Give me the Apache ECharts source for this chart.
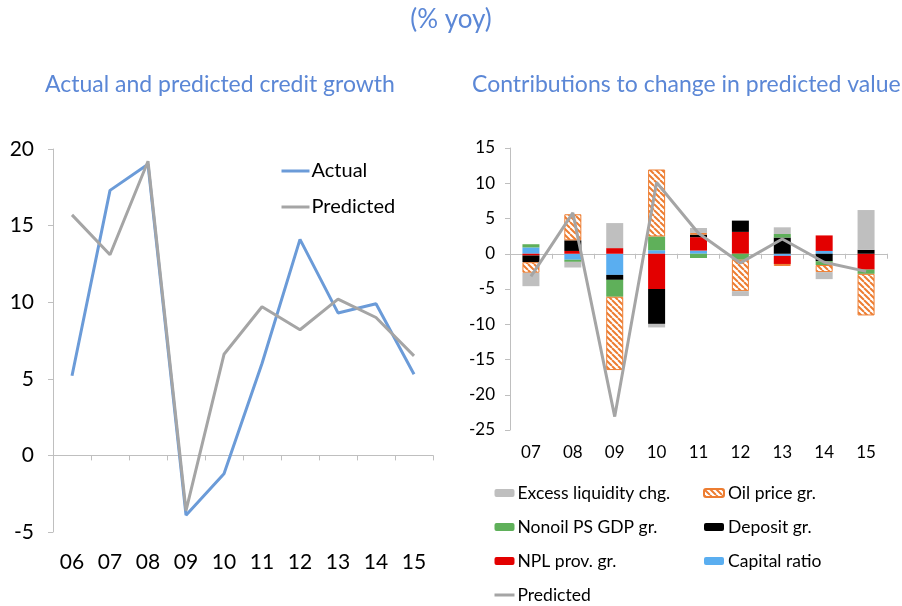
<!DOCTYPE html>
<html lang="en">
<head>
    <meta charset="UTF-8">
    <title>Credit growth</title>
    <script src="https://cdn.jsdelivr.net/npm/echarts@6.0.0/dist/echarts.min.js"></script>
    <style>
        body { margin: 0; background: #fff; }
    </style>
</head>
<body>
    <div id="main" style="width: 902px; height: 606px;"></div>
    <script>
        // left panel: actual vs predicted credit growth
        const yearsLeft = ['06', '07', '08', '09', '10', '11', '12', '13', '14', '15'];
        const actual = [5.2, 17.3, 19.0, -3.9, -1.2, 6.0, 14.1, 9.3, 9.9, 5.3];
        const predicted = [15.7, 13.1, 19.2, -3.6, 6.6, 9.7, 8.2, 10.2, 9.0, 6.5];

        // right panel: contributions to change in predicted value
        const yearsRight = ['07', '08', '09', '10', '11', '12', '13', '14', '15'];
        const capitalRatio = [0.9, -0.85, -3.0, 0.5, 0.45, 0, -0.3, 0.4, 0];
        const nplProv = [-0.25, 0.4, 0.8, -5.0, 1.9, 3.1, -1.15, 2.2, -2.25];
        const depositGr = [-0.95, 1.5, -0.7, -4.95, 0.35, 1.6, 2.3, -1.05, 0.55];
        const nonoilGdp = [0.45, -0.3, -2.4, 1.95, -0.6, -0.85, 0.5, -0.55, -0.6];
        const oilPrice = [-1.5, 3.7, -10.4, 9.5, 0.25, -4.45, -0.28, -1.0, -5.9];
        const excessLiq = [-1.9, -0.8, 3.55, -0.5, 0.7, -0.7, 0.95, -1.0, 5.65];
        const predChange = [-3.2, 5.8, -23.1, 10.1, 2.9, -1.3, 2.1, -1.2, -2.5];

        const FONT = 'Lato';
        const titleColor = '#5b87d6';
        const axisGray = '#bfbfbf';
        const predGray = '#a5a5a5';

        function hatch() {
            const s = 6;
            const c = document.createElement('canvas');
            c.width = s; c.height = s;
            const g = c.getContext('2d');
            g.fillStyle = '#fff';
            g.fillRect(0, 0, s, s);
            g.strokeStyle = '#ed7d31';
            g.lineWidth = 2;
            g.beginPath();
            for (let k = -1; k <= 1; k++) {
                g.moveTo(k * s, 0);
                g.lineTo(k * s + s, s);
            }
            g.stroke();
            return c;
        }

        const myChart = echarts.init(document.getElementById('main'));

        function zeroAxis(grid, data) {
            return {
                gridIndex: grid,
                type: 'category',
                data: data,
                position: 'bottom',
                axisLine: { onZero: true, lineStyle: { color: axisGray, width: 1 } },
                axisTick: { show: true, length: 5, lineStyle: { color: axisGray } },
                axisLabel: { show: false },
                splitLine: { show: false }
            };
        }
        function labelAxis(grid, data, size, margin) {
            return {
                gridIndex: grid,
                type: 'category',
                data: data,
                position: 'bottom',
                axisLine: { show: false, onZero: false },
                axisTick: { show: false },
                axisLabel: { color: '#000', fontFamily: FONT, fontSize: size, margin: margin },
                splitLine: { show: false }
            };
        }
        function valueAxis(grid, min, max, size, margin) {
            return {
                gridIndex: grid,
                type: 'value',
                min: min,
                max: max,
                interval: 5,
                axisLine: { show: true, lineStyle: { color: axisGray } },
                axisTick: { show: true, length: 5, lineStyle: { color: axisGray } },
                axisLabel: { color: '#000', fontFamily: FONT, fontSize: size, margin: margin },
                splitLine: { show: false }
            };
        }

        const pattern = { image: hatch(), repeat: 'repeat' };

        function stackBar(name, data, color, extra) {
            return Object.assign({
                name: name,
                type: 'bar',
                xAxisIndex: 2,
                yAxisIndex: 1,
                stack: 'contrib',
                barWidth: 17,
                data: data,
                itemStyle: { color: color },
                animation: false
            }, extra || {});
        }

        // line entries in the legends: no dot on the line
        function lineItem(name) {
            return { name: name, itemStyle: { opacity: 0 }, lineStyle: { width: 3 } };
        }

        const options = {
            backgroundColor: '#fff',
            textStyle: { fontFamily: FONT },
            title: [
                {
                    text: '(% yoy)',
                    left: 'center',
                    top: 2,
                    textStyle: { color: titleColor, fontFamily: FONT, fontSize: 26, fontWeight: 'normal' }
                },
                {
                    text: 'Actual and predicted credit growth',
                    left: 40,
                    top: 68,
                    textStyle: { color: titleColor, fontFamily: FONT, fontSize: 23, fontWeight: 'normal' }
                },
                {
                    text: 'Contributions to change in predicted value',
                    left: 467,
                    top: 68,
                    textStyle: { color: titleColor, fontFamily: FONT, fontSize: 23, fontWeight: 'normal' }
                }
            ],
            legend: [
                {
                    left: 280,
                    top: 161,
                    padding: 0,
                    orient: 'vertical',
                    itemWidth: 28,
                    itemHeight: 4,
                    itemGap: 16,
                    textStyle: { color: '#000', fontFamily: FONT, fontSize: 20, padding: [0, 0, 0, -3] },
                    data: [lineItem('Actual'), lineItem('Predicted')]
                },
                {
                    left: 493,
                    top: 484,
                    padding: 0,
                    orient: 'vertical',
                    itemWidth: 20,
                    itemHeight: 8,
                    itemGap: 16,
                    textStyle: { color: '#000', fontFamily: FONT, fontSize: 17.5, padding: [0, 0, 0, -2] },
                    data: ['Excess liquidity chg.', 'Nonoil PS GDP gr.', 'NPL prov. gr.', lineItem('Predicted')]
                },
                {
                    left: 703,
                    top: 484,
                    padding: 0,
                    orient: 'vertical',
                    itemWidth: 20,
                    itemHeight: 8,
                    itemGap: 16,
                    textStyle: { color: '#000', fontFamily: FONT, fontSize: 17.5, padding: [0, 0, 0, -1] },
                    data: ['Oil price gr.', 'Deposit gr.', 'Capital ratio']
                }
            ],
            grid: [
                { left: 53, right: 469, top: 149, bottom: 74 },
                { left: 510, right: 15, top: 148, bottom: 176 }
            ],
            xAxis: [
                zeroAxis(0, yearsLeft),
                labelAxis(0, yearsLeft, 21, 20),
                zeroAxis(1, yearsRight),
                labelAxis(1, yearsRight, 17, 14)
            ],
            yAxis: [
                valueAxis(0, -5, 20, 21, 19),
                valueAxis(1, -25, 15, 17, 15)
            ],
            series: [
                {
                    name: 'Actual',
                    type: 'line',
                    xAxisIndex: 0,
                    yAxisIndex: 0,
                    data: actual,
                    symbol: 'none',
                    lineStyle: { color: '#6b9bd8', width: 3 },
                    itemStyle: { color: '#6b9bd8' },
                    animation: false
                },
                {
                    name: 'Predicted',
                    type: 'line',
                    xAxisIndex: 0,
                    yAxisIndex: 0,
                    data: predicted,
                    symbol: 'none',
                    lineStyle: { color: predGray, width: 3 },
                    itemStyle: { color: predGray },
                    animation: false
                },
                stackBar('Capital ratio', capitalRatio, '#5aaef0'),
                stackBar('NPL prov. gr.', nplProv, '#e30000'),
                stackBar('Deposit gr.', depositGr, '#000000'),
                stackBar('Nonoil PS GDP gr.', nonoilGdp, '#5fb05a'),
                stackBar('Oil price gr.', oilPrice, pattern, {
                    itemStyle: { color: pattern, borderColor: '#ed7d31', borderWidth: 1 }
                }),
                stackBar('Excess liquidity chg.', excessLiq, '#bfbfbf'),
                {
                    name: 'Predicted',
                    type: 'line',
                    xAxisIndex: 2,
                    yAxisIndex: 1,
                    data: predChange,
                    symbol: 'none',
                    z: 5,
                    lineStyle: { color: predGray, width: 3 },
                    itemStyle: { color: predGray },
                    animation: false
                }
            ]
        };

        myChart.setOption(options);
    </script>
</body>
</html>
